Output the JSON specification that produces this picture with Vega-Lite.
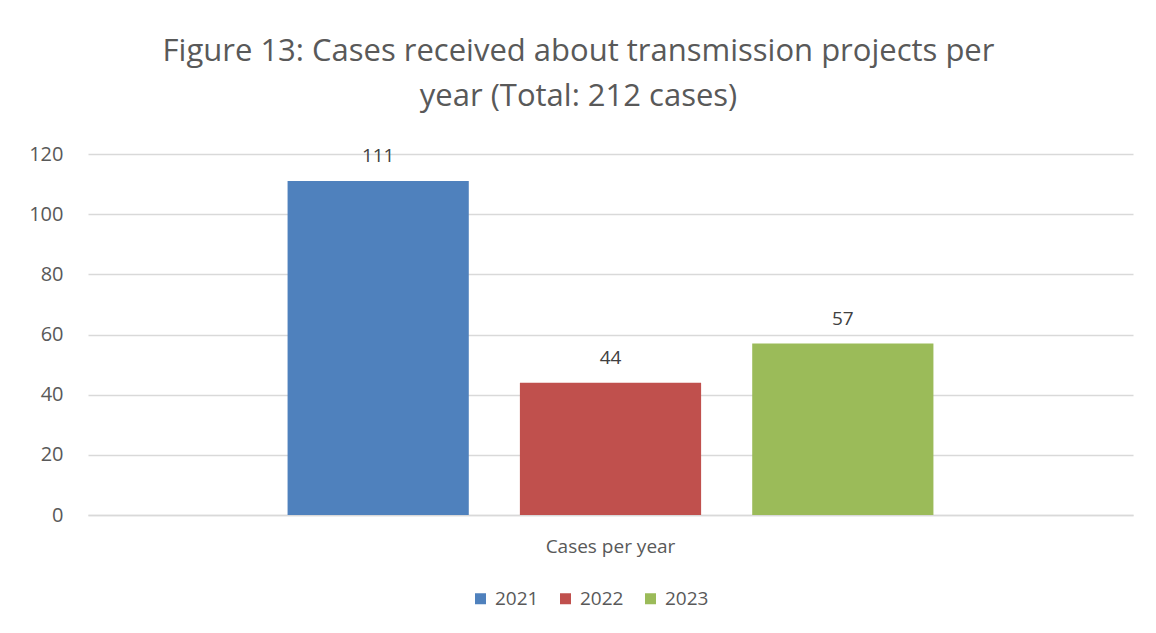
{
  "$schema": "https://vega.github.io/schema/vega-lite/v6.json",
  "width": 1045,
  "height": 361,
  "autosize": {"type": "none"},
  "padding": {"left": 88, "top": 154, "right": 23, "bottom": 118},
  "background": "white",
  "title": {
    "text": ["Figure 13: Cases received about transmission projects per", "year (Total: 212 cases)"],
    "font": "Open Sans",
    "fontSize": 31,
    "fontWeight": "normal",
    "color": "#595959",
    "anchor": "middle",
    "dx": -32,
    "offset": 31,
    "lineHeight": 45
  },
  "data": {
    "values": [
      {"category": "Cases per year", "year": "2021", "cases": 111},
      {"category": "Cases per year", "year": "2022", "cases": 44},
      {"category": "Cases per year", "year": "2023", "cases": 57}
    ]
  },
  "encoding": {
    "x": {
      "field": "category",
      "type": "nominal",
      "title": null,
      "scale": {"paddingInner": 0, "paddingOuter": 0.309},
      "axis": {
        "labelAngle": 0,
        "labelFont": "Open Sans",
        "labelFontSize": 19,
        "labelColor": "#595959",
        "labelPadding": 22,
        "ticks": false,
        "domainColor": "#d9d9d9",
        "domainWidth": 1.5
      }
    },
    "xOffset": {
      "field": "year",
      "type": "nominal",
      "scale": {"paddingInner": 0.22, "paddingOuter": 0}
    },
    "y": {
      "field": "cases",
      "type": "quantitative",
      "title": null,
      "scale": {"domain": [0, 120]},
      "axis": {
        "values": [0, 20, 40, 60, 80, 100, 120],
        "labelFont": "Open Sans",
        "labelFontSize": 20,
        "labelColor": "#595959",
        "labelPadding": 25,
        "ticks": false,
        "domain": false,
        "gridColor": "#d9d9d9",
        "gridWidth": 1.5
      }
    },
    "color": {
      "field": "year",
      "type": "nominal",
      "title": null,
      "scale": {"domain": ["2021", "2022", "2023"], "range": ["#4F81BD", "#C0504D", "#9BBB59"]},
      "legend": {
        "orient": "none",
        "legendX": 383,
        "legendY": 435,
        "direction": "horizontal",
        "symbolType": "square",
        "symbolSize": 121,
        "symbolStrokeWidth": 0,
        "labelFont": "Open Sans",
        "labelFontSize": 19,
        "labelColor": "#595959",
        "labelOffset": 5,
        "columnPadding": 17
      }
    }
  },
  "layer": [
    {"mark": {"type": "bar"}},
    {
      "mark": {"type": "text", "baseline": "middle", "dy": -25, "font": "Open Sans", "fontSize": 19, "color": "#404040"},
      "encoding": {"text": {"field": "cases", "type": "quantitative"}, "color": {"value": "#404040"}}
    }
  ],
  "config": {"view": {"stroke": null}}
}
